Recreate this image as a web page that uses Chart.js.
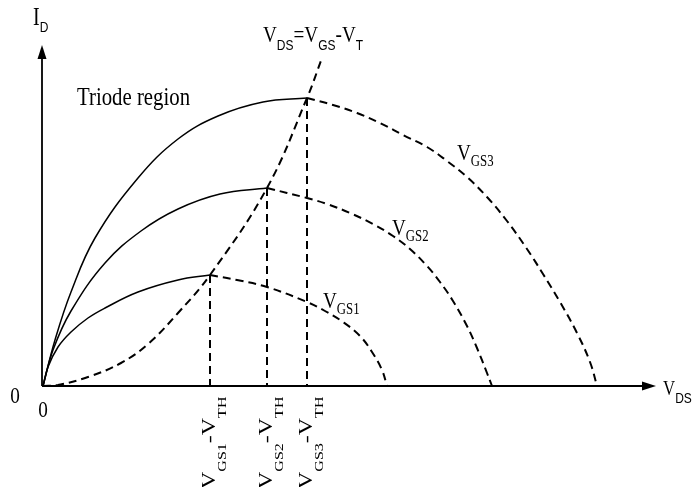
<!DOCTYPE html>
<html>
<head>
<meta charset="utf-8">
<script src="https://cdn.jsdelivr.net/npm/chart.js@4/dist/chart.umd.min.js"></script>
<style>
  html, body { margin: 0; padding: 0; background: #fff; }
</style>
</head>
<body>
<canvas id="mosfet-chart" width="700" height="487"></canvas>
<script>
// V_DS / I_D values (arbitrary units)
const gs1TriodeX = [0, 0.5, 1.5, 2.8, 4.5, 6.2, 9.5, 13.5, 16.7];
const gs1TriodeY = [0, 1.9, 3.9, 5.4, 6.8, 7.8, 9.4, 10.6, 11.1];
const gs1SatX = [16.7, 19.4, 22.4, 26.4, 28.2, 30.0, 31.7, 32.9, 33.9, 34.4];
const gs1SatY = [11.1, 10.6, 9.9, 8.4, 7.5, 6.4, 5.0, 3.4, 1.6, 0];

const gs2TriodeX = [0, 1.0, 2.8, 6.2, 9.8, 13.5, 17.7, 22.4];
const gs2TriodeY = [0, 3.6, 7.5, 12.3, 15.5, 17.7, 19.2, 19.8];
const gs2SatX = [22.4, 26.4, 28.4, 30.7, 33.0, 35.0, 36.7, 38.4, 39.7, 41.0, 42.4, 43.4, 44.4, 44.9];
const gs2SatY = [19.8, 18.8, 18.2, 17.3, 16.2, 15.0, 13.7, 12.0, 10.4, 8.5, 6.0, 3.8, 1.3, 0];

const gs3TriodeX = [0, 1.2, 2.8, 5.2, 9.5, 13.5, 17.5, 22.0, 26.4];
const gs3TriodeY = [0, 4.6, 9.4, 14.8, 20.8, 24.7, 27.0, 28.4, 28.8];
const gs3SatX = [26.4, 29.0, 31.4, 33.7, 36.0, 38.4, 40.4, 42.4, 44.4, 46.4, 48.4, 50.0, 51.7, 53.4, 54.7, 55.4];
const gs3SatY = [28.8, 28.1, 27.3, 26.3, 25.1, 23.9, 22.5, 20.9, 18.9, 16.5, 13.7, 11.2, 8.4, 5.3, 2.4, 0];

// boundary V_DS = V_GS - V_T
const edgeX = [0, 1.5, 4.5, 7.8, 10.5, 13.5, 16.7, 22.4, 26.4, 27.9];
const edgeY = [0, 0.1, 0.9, 2.3, 4.2, 7.3, 11.1, 19.8, 28.8, 32.8];

// pinch-off points (V_GSn - V_TH, peak current)
const pinchX = [16.7, 22.4, 26.4];
const pinchY = [11.1, 19.8, 28.8];
const pinchNames = ['GS1', 'GS2', 'GS3'];

const xMax = 61.3;
const yMax = 34.1;

const serif = '"Liberation Serif", "Times New Roman", serif';
const sans = '"Liberation Sans", Arial, sans-serif';
const squeeze = 0.8; // the scanned figure is narrower than it is tall

const pts = (xs, ys) => xs.map((x, i) => ({ x: x, y: ys[i] }));

const solid = (xs, ys) => ({
  data: pts(xs, ys),
  borderColor: '#000',
  borderWidth: 1.5,
  pointRadius: 0,
  tension: 0.4,
  clip: false,
});
const dashed = (xs, ys) => ({
  data: pts(xs, ys),
  borderColor: '#000',
  borderWidth: 2,
  borderDash: [8, 5],
  pointRadius: 0,
  tension: 0.4,
  clip: false,
});

const datasets = [
  solid(gs1TriodeX, gs1TriodeY), dashed(gs1SatX, gs1SatY),
  solid(gs2TriodeX, gs2TriodeY), dashed(gs2SatX, gs2SatY),
  solid(gs3TriodeX, gs3TriodeY), dashed(gs3SatX, gs3SatY),
  dashed(edgeX, edgeY),
];
pinchX.forEach((x, i) => {
  let d = dashed([x, x], [pinchY[i], 0]);
  d.tension = 0;
  datasets.push(d);
});

function runsWidth(ctx, runs) {
  let w = 0;
  runs.forEach(([text, size, family]) => {
    ctx.font = size + 'px ' + family;
    w += ctx.measureText(text).width;
  });
  return w;
}

function drawRuns(ctx, x, y, runs) {
  let cx = x;
  runs.forEach(([text, size, family, dy]) => {
    ctx.font = size + 'px ' + family;
    ctx.fillText(text, cx, y + dy);
    cx += ctx.measureText(text).width;
  });
}

// align: 0 = start at anchor, 0.5 = centred, 1 = end at anchor
function label(ctx, x, y, runs, align, rotated) {
  const w = runsWidth(ctx, runs);
  ctx.save();
  ctx.translate(x, y);
  ctx.scale(squeeze, 1);
  if (rotated) ctx.rotate(-Math.PI / 2);
  drawRuns(ctx, -w * align, 0, runs);
  ctx.restore();
}

const axesPlugin = {
  id: 'axes',
  beforeDatasetsDraw(chart) {
    const ctx = chart.ctx;
    const sx = chart.scales.x, sy = chart.scales.y;
    const x0 = sx.getPixelForValue(0) - 1, y0 = sy.getPixelForValue(0);
    const xe = sx.getPixelForValue(xMax), ye = sy.getPixelForValue(yMax);
    ctx.save();
    ctx.strokeStyle = '#000';
    ctx.fillStyle = '#000';
    ctx.lineWidth = 1.8;
    ctx.beginPath();
    ctx.moveTo(x0, y0);
    ctx.lineTo(x0, ye + 8);
    ctx.moveTo(x0, y0);
    ctx.lineTo(xe - 8, y0);
    ctx.stroke();
    ctx.beginPath();
    ctx.moveTo(x0, ye);
    ctx.lineTo(x0 - 4.5, ye + 14);
    ctx.lineTo(x0 + 4.5, ye + 14);
    ctx.closePath();
    ctx.fill();
    ctx.beginPath();
    ctx.moveTo(xe, y0);
    ctx.lineTo(xe - 14, y0 - 4.5);
    ctx.lineTo(xe - 14, y0 + 4.5);
    ctx.closePath();
    ctx.fill();
    ctx.restore();
  },
  afterDatasetsDraw(chart) {
    const ctx = chart.ctx;
    const sx = chart.scales.x, sy = chart.scales.y;
    const px = (v) => sx.getPixelForValue(v);
    const py = (v) => sy.getPixelForValue(v);
    ctx.save();
    ctx.fillStyle = '#000';
    ctx.textBaseline = 'alphabetic';
    ctx.textAlign = 'left';

    label(ctx, px(-1.0), py(36.1), [['I', 25, serif, 0], ['D', 15, sans, 7]], 0);
    label(ctx, px(62.0), py(-0.9), [['V', 21, serif, 0], ['DS', 15, sans, 8]], 0);

    label(ctx, px(-2.8), py(-1.7), [['0', 24, serif, 0]], 0.5);
    label(ctx, px(0), py(-3.1), [['0', 24, serif, 0]], 0.5);

    label(ctx, px(3.4), py(28.1), [['Triode region', 26, serif, 0]], 0);

    label(ctx, px(22.0), py(34.4), [
      ['V', 24, serif, 0], ['DS', 15, sans, 8], ['=', 24, serif, 0],
      ['V', 24, serif, 0], ['GS', 15, sans, 8], ['-', 24, serif, 0],
      ['V', 24, serif, 0], ['T', 15, sans, 8],
    ], 0);

    const curveLabelX = [28.0, 34.9, 41.4];
    const curveLabelY = [7.8, 15.1, 22.6];
    pinchNames.forEach((n, i) => {
      label(ctx, px(curveLabelX[i]), py(curveLabelY[i]),
        [['V', 24, serif, 0], [n, 16, serif, 6]], 0);
    });

    // rotated tick labels, reading upwards from the bottom edge
    pinchX.forEach((x, i) => {
      label(ctx, px(x + 0.5), py(-10.3), [
        ['V', 24, serif, 0], [pinchNames[i], 16, serif, 14], ['-', 24, serif, 0],
        ['V', 24, serif, 0], ['TH', 16, serif, 14],
      ], 0, true);
    });
    ctx.restore();
  },
};

new Chart(document.getElementById('mosfet-chart').getContext('2d'), {
  type: 'line',
  data: { datasets: datasets },
  options: {
    responsive: false,
    animation: false,
    devicePixelRatio: 1,
    layout: { padding: { left: 43, right: 44, top: 45, bottom: 101 } },
    plugins: { legend: { display: false }, tooltip: { enabled: false } },
    scales: {
      x: { type: 'linear', min: 0, max: xMax, display: false },
      y: { type: 'linear', min: 0, max: yMax, display: false },
    },
  },
  plugins: [axesPlugin],
});
</script>
</body>
</html>
